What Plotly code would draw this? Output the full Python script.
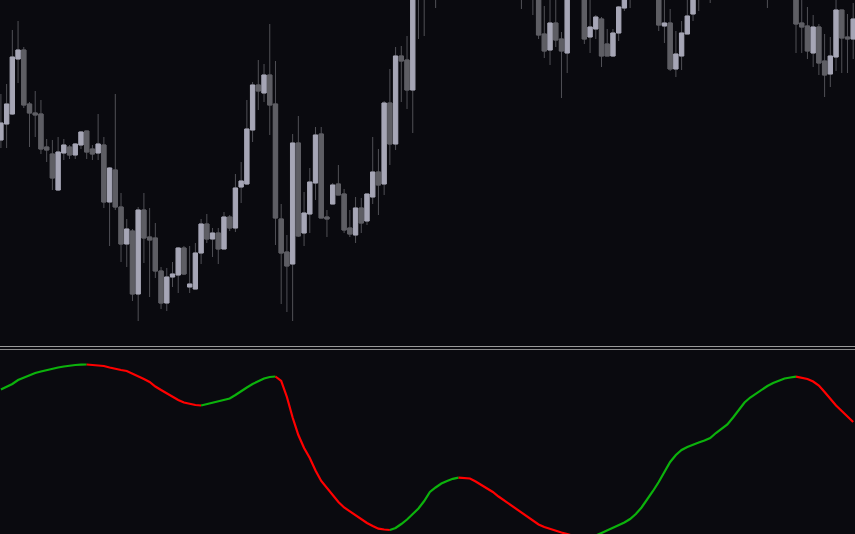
import plotly.graph_objects as go

# ---------------- data ----------------
idx = list(range(1, 151))

open_ = [2210, 2226, 2236, 2291, 2300, 2246, 2237, 2236, 2203, 2196,
         2160, 2197, 2203, 2195, 2205, 2219, 2201, 2197, 2205, 2148,
         2180, 2143, 2106, 2119, 2056, 2140, 2113, 2112, 2079, 2047,
         2073, 2075, 2102, 2063, 2061, 2097, 2126, 2111, 2117, 2101,
         2133, 2122, 2163, 2166, 2220, 2265, 2257, 2275, 2246, 2131,
         2098, 2086, 2207, 2117, 2136, 2167, 2216, 2133, 2146, 2166,
         2156, 2122, 2115, 2142, 2129, 2153, 2178, 2166, 2247, 2206,
         2294, 2290, 2260, 2362, 2378, 2371, 2388, 2380, 2404, 2399,
         2420, 2410, 2396, 2408, 2402, 2386, 2392, 2381, 2372, 2384,
         2375, 2364, 2372, 2382, 2366, 2316, 2300, 2327, 2311, 2297,
         2362, 2385, 2372, 2313, 2321, 2331, 2306, 2294, 2317, 2342,
         2364, 2378, 2390, 2380, 2386, 2368, 2324, 2327, 2281, 2294,
         2316, 2336, 2358, 2372, 2385, 2366, 2388, 2398, 2410, 2406,
         2425, 2432, 2424, 2410, 2388, 2362, 2386, 2396, 2384, 2368,
         2327, 2324, 2297, 2323, 2289, 2276, 2293, 2340, 2313, 2311]

high_ = [2256, 2266, 2320, 2329, 2303, 2248, 2259, 2250, 2211, 2210,
         2213, 2211, 2205, 2207, 2219, 2219, 2205, 2236, 2213, 2183,
         2256, 2157, 2131, 2121, 2143, 2157, 2142, 2127, 2083, 2082,
         2088, 2103, 2104, 2104, 2107, 2131, 2136, 2122, 2122, 2138,
         2135, 2176, 2188, 2250, 2268, 2290, 2286, 2326, 2289, 2146,
         2115, 2216, 2234, 2158, 2182, 2223, 2223, 2140, 2167, 2185,
         2161, 2140, 2153, 2152, 2156, 2213, 2201, 2249, 2281, 2303,
         2304, 2314, 2375, 2390, 2398, 2395, 2402, 2410, 2418, 2425,
         2432, 2422, 2415, 2420, 2410, 2398, 2405, 2394, 2388, 2396,
         2386, 2380, 2390, 2392, 2380, 2344, 2355, 2356, 2318, 2372,
         2392, 2398, 2380, 2352, 2335, 2333, 2321, 2321, 2344, 2372,
         2384, 2396, 2402, 2394, 2395, 2378, 2356, 2341, 2319, 2329,
         2355, 2366, 2380, 2390, 2396, 2392, 2405, 2415, 2424, 2430,
         2440, 2445, 2436, 2420, 2398, 2392, 2402, 2405, 2395, 2378,
         2356, 2343, 2335, 2326, 2316, 2313, 2352, 2340, 2336, 2347]

low_ = [2202, 2202, 2235, 2267, 2242, 2203, 2213, 2196, 2188, 2160,
        2159, 2190, 2191, 2191, 2201, 2191, 2190, 2190, 2142, 2104,
        2140, 2088, 2083, 2049, 2029, 2087, 2053, 2072, 2041, 2039,
        2063, 2057, 2075, 2057, 2061, 2086, 2107, 2093, 2086, 2101,
        2119, 2118, 2147, 2165, 2208, 2240, 2248, 2215, 2105, 2046,
        2038, 2029, 2113, 2104, 2117, 2150, 2132, 2113, 2146, 2155,
        2117, 2113, 2107, 2117, 2125, 2146, 2135, 2155, 2185, 2200,
        2248, 2241, 2217, 2311, 2314, 2360, 2342, 2372, 2395, 2390,
        2405, 2392, 2385, 2398, 2380, 2372, 2378, 2366, 2362, 2370,
        2358, 2341, 2365, 2335, 2311, 2292, 2285, 2303, 2252, 2277,
        2356, 2360, 2306, 2297, 2311, 2283, 2294, 2293, 2309, 2339,
        2342, 2366, 2374, 2362, 2360, 2319, 2307, 2279, 2273, 2280,
        2316, 2329, 2339, 2360, 2347, 2358, 2378, 2390, 2400, 2398,
        2412, 2418, 2405, 2380, 2342, 2356, 2374, 2380, 2360, 2297,
        2297, 2291, 2283, 2275, 2253, 2263, 2279, 2277, 2277, 2291]

close_ = [2227, 2246, 2293, 2300, 2245, 2237, 2235, 2201, 2200, 2172,
          2198, 2205, 2195, 2206, 2218, 2198, 2196, 2206, 2148, 2182,
          2143, 2106, 2121, 2056, 2140, 2112, 2110, 2079, 2047, 2073,
          2076, 2102, 2076, 2066, 2097, 2126, 2111, 2117, 2101, 2133,
          2122, 2162, 2169, 2221, 2265, 2259, 2275, 2245, 2132, 2097,
          2084, 2207, 2114, 2137, 2168, 2215, 2132, 2131, 2165, 2155,
          2120, 2116, 2142, 2127, 2156, 2178, 2165, 2247, 2206, 2294,
          2289, 2260, 2362, 2378, 2371, 2388, 2380, 2404, 2399, 2420,
          2410, 2396, 2408, 2402, 2386, 2392, 2381, 2372, 2384, 2375,
          2364, 2372, 2382, 2366, 2315, 2299, 2327, 2310, 2299, 2362,
          2385, 2372, 2311, 2323, 2333, 2294, 2294, 2317, 2343, 2364,
          2378, 2390, 2380, 2386, 2368, 2325, 2327, 2281, 2296, 2317,
          2334, 2358, 2372, 2385, 2366, 2388, 2398, 2410, 2406, 2425,
          2432, 2424, 2410, 2388, 2362, 2386, 2396, 2384, 2368, 2326,
          2323, 2299, 2323, 2287, 2275, 2294, 2340, 2312, 2311, 2331]

osc = [150.5, 153.5, 156, 160, 162.5, 165, 167, 168.5, 170, 171.5,
       172.5, 173.5, 174.5, 175, 175.3, 175.5, 175.2, 174.7, 174, 172.5,
       171, 170, 169, 166.5, 164, 161, 158, 153.5, 150, 146.5,
       143, 140, 137.5, 136, 135, 134.5, 136, 137.5, 138.5, 140,
       141.5, 145, 149, 152.5, 156, 159, 161.5, 163, 163.5, 159,
       143, 122.5, 105, 92, 82, 69.5, 59, 52, 44, 38,
       32.5, 28.5, 24.5, 20.5, 17, 14, 11.3, 10.5, 10, 12,
       16, 20.5, 26, 31.5, 39, 48, 52.5, 56.5, 59, 61.2,
       62.3, 62.2, 61.5, 58.5, 55, 51.5, 48, 43.5, 39.5, 35,
       31, 27, 23, 19, 15.5, 13, 11, 9, 7.5, 6,
       4, 2.5, 2, 3, 4.5, 7, 9.5, 12.5, 15, 17.5,
       21, 26, 32.5, 40.5, 49, 58, 68, 78, 85, 90,
       93, 95.5, 97.5, 99.5, 102, 107, 111, 115.5, 122.5, 130,
       137.5, 142.5, 146.5, 150.5, 154, 157, 159.5, 161.5, 162.5, 163.3,
       162.3, 161, 158.5, 154.5, 148, 141, 134.5, 129, 123, 118]

# ---------------- style ----------------
BG = '#0a0a0f'
UP = '#a6a6b6'
DOWN = '#5e5e64'
WICK = '#505056'
GREEN = '#0cb20c'
RED = '#ff0000'

fig = go.Figure()

# wicks (all candles)
fig.add_trace(go.Candlestick(
    x=idx, open=open_, high=high_, low=low_, close=close_,
    increasing=dict(line=dict(color=WICK, width=1), fillcolor=WICK),
    decreasing=dict(line=dict(color=WICK, width=1), fillcolor=WICK),
    whiskerwidth=0, hoverinfo='skip', showlegend=False,
    xaxis='x', yaxis='y'))

# bodies
body_hi = [max(o, c) for o, c in zip(open_, close_)]
body_lo = [min(o, c) for o, c in zip(open_, close_)]
fig.add_trace(go.Candlestick(
    x=idx, open=open_, high=body_hi, low=body_lo, close=close_,
    increasing=dict(line=dict(color=UP, width=1), fillcolor=UP),
    decreasing=dict(line=dict(color=DOWN, width=1), fillcolor=DOWN),
    whiskerwidth=0, showlegend=False,
    xaxis='x', yaxis='y'))

# oscillator: coloured runs (green rising, red falling)
runs = []
cur_col = None
cur_x, cur_y = [], []
for i in range(1, len(osc)):
    col = GREEN if osc[i] >= osc[i - 1] else RED
    if col != cur_col:
        if cur_col is not None:
            runs.append((cur_col, cur_x, cur_y))
        cur_col = col
        cur_x, cur_y = [idx[i - 1]], [osc[i - 1]]
    cur_x.append(idx[i])
    cur_y.append(osc[i])
runs.append((cur_col, cur_x, cur_y))

for col, rx, ry in runs:
    fig.add_trace(go.Scatter(
        x=rx, y=ry, mode='lines', line=dict(color=col, width=2.2),
        showlegend=False, hoverinfo='skip', xaxis='x2', yaxis='y2'))

W, H = 855, 534
pitch = 5.72
x0 = 1 - 0.9 / pitch
x1 = 150 + (W - 853.2) / pitch

ax = dict(showgrid=False, zeroline=False, showticklabels=False,
          showline=False, ticks='')

fig.update_layout(
    width=W, height=H,
    margin=dict(l=0, r=0, t=0, b=0),
    paper_bgcolor=BG, plot_bgcolor=BG,
    boxgap=0.25, boxgroupgap=0, boxmode='overlay',
    showlegend=False,
    xaxis=dict(ax, domain=[0, 1], range=[x0, x1], anchor='y',
               rangeslider=dict(visible=False)),
    yaxis=dict(ax, domain=[(H - 344) / H, 1], range=[2006, 2350], anchor='x'),
    xaxis2=dict(ax, domain=[0, 1], range=[x0, x1], anchor='y2'),
    yaxis2=dict(ax, domain=[0, (H - 351) / H], range=[6, 189], anchor='x2'),
    shapes=[
        dict(type='line', xref='paper', yref='paper', x0=0, x1=1,
             y0=(H - 346.5) / H, y1=(H - 346.5) / H,
             line=dict(color='#9a9a9a', width=1)),
        dict(type='line', xref='paper', yref='paper', x0=0, x1=1,
             y0=(H - 349.5) / H, y1=(H - 349.5) / H,
             line=dict(color='#8a8a8a', width=1)),
    ],
)

fig.write_html(
    "out.html",
    config=dict(displayModeBar=False),
    post_script="document.body.style.margin='0';document.body.style.padding='0';"
                "document.body.style.background='#0a0a0f';"
                "document.body.style.overflow='hidden';",
)
